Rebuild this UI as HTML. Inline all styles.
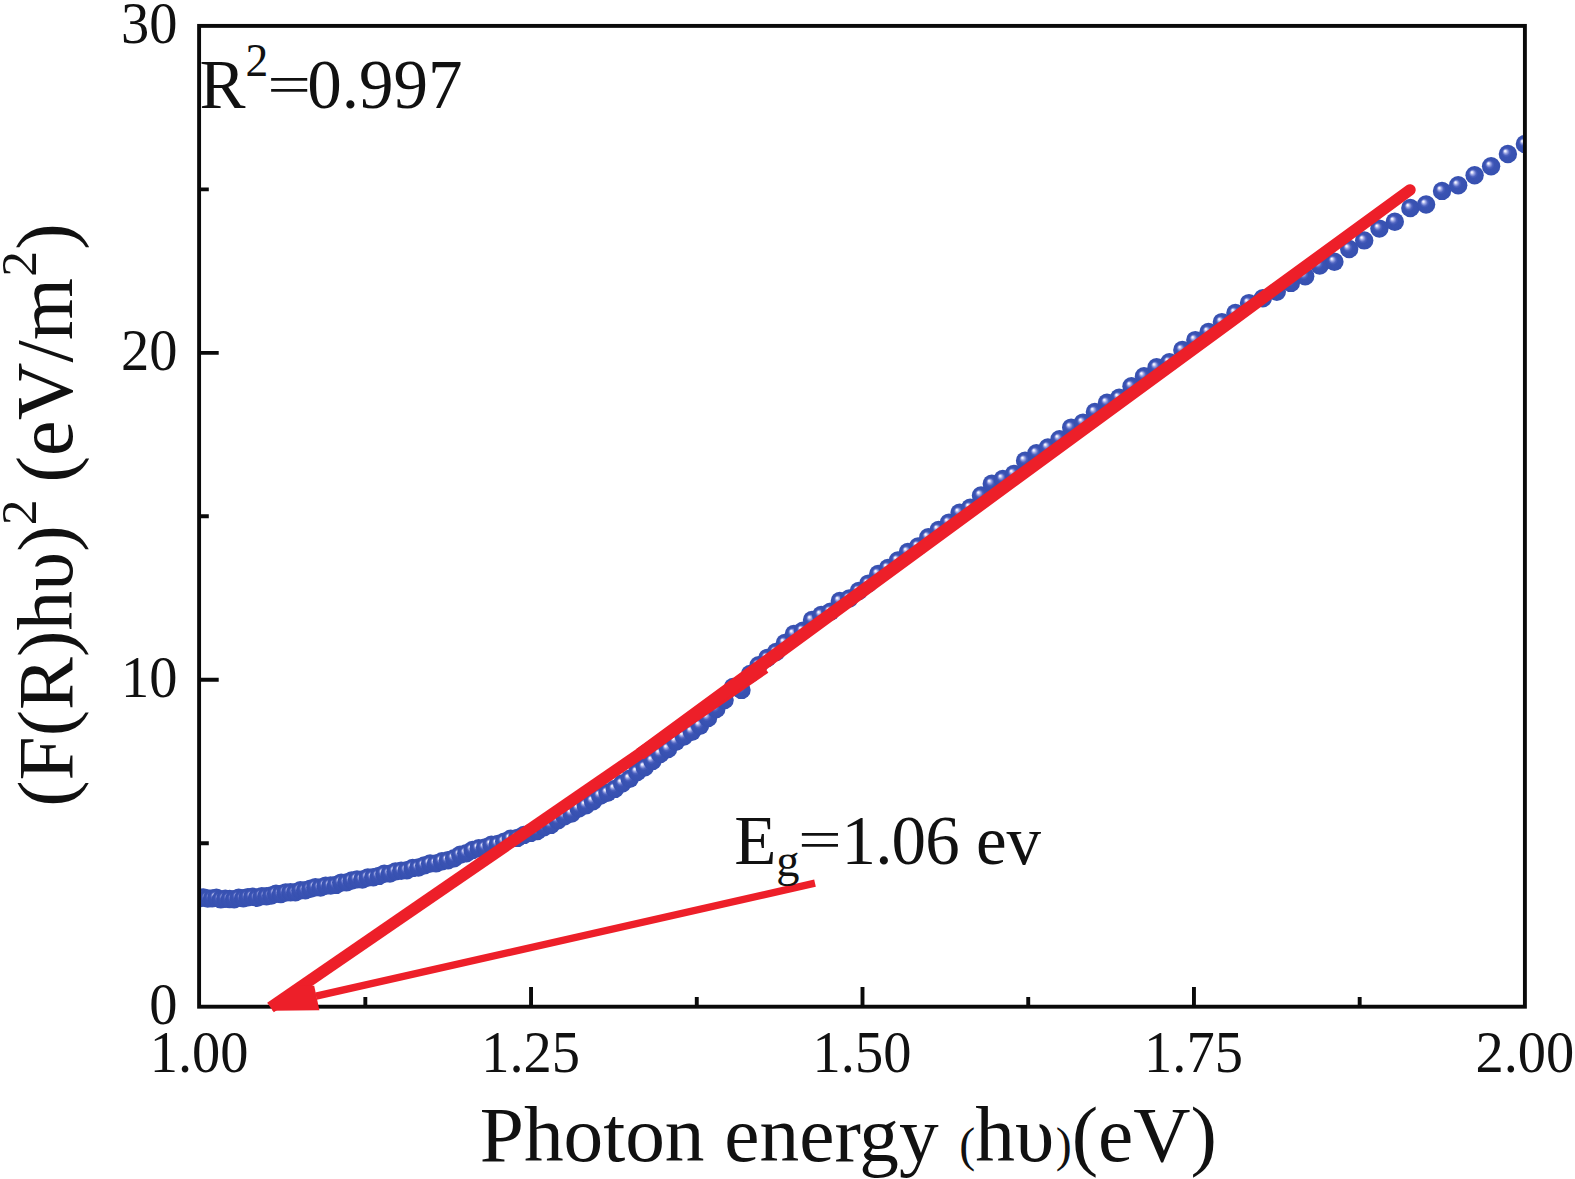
<!DOCTYPE html>
<html lang="en">
<head>
<meta charset="utf-8">
<title>Tauc plot</title>
<style>
html,body{margin:0;padding:0;background:#fff;}
body{width:1575px;height:1179px;overflow:hidden;}
svg{display:block;}
text{font-family:"Liberation Serif",serif;fill:#111;}
.tk{font-size:56.5px;}
.an{font-size:69px;}
</style>
</head>
<body>
<svg width="1575" height="1179" viewBox="0 0 1575 1179">
<defs>
<radialGradient id="ball" cx="0.5" cy="0.5" r="0.5" fx="0.34" fy="0.33">
<stop offset="0" stop-color="#ffffff"/>
<stop offset="0.09" stop-color="#e6e8fb"/>
<stop offset="0.22" stop-color="#97a2e2"/>
<stop offset="0.38" stop-color="#4d62bf"/>
<stop offset="0.52" stop-color="#3a53b3"/>
<stop offset="1" stop-color="#3650b0"/>
</radialGradient>
<clipPath id="plot"><rect x="199.1" y="25.9" width="1325.8" height="980.8"/></clipPath>
</defs>
<rect width="1575" height="1179" fill="#ffffff"/>

<!-- data points -->
<g clip-path="url(#plot)" fill="url(#ball)">
<circle cx="199.1" cy="898.3" r="9.2"/>
<circle cx="203.4" cy="897.5" r="9.2"/>
<circle cx="207.7" cy="898.5" r="9.2"/>
<circle cx="212.1" cy="898.4" r="9.2"/>
<circle cx="216.4" cy="897.8" r="9.2"/>
<circle cx="220.8" cy="899.4" r="9.2"/>
<circle cx="225.3" cy="898.7" r="9.2"/>
<circle cx="229.7" cy="899.0" r="9.2"/>
<circle cx="234.2" cy="899.3" r="9.2"/>
<circle cx="238.7" cy="897.8" r="9.2"/>
<circle cx="243.3" cy="898.3" r="9.2"/>
<circle cx="247.9" cy="897.3" r="9.2"/>
<circle cx="252.5" cy="896.8" r="9.2"/>
<circle cx="257.1" cy="897.7" r="9.2"/>
<circle cx="261.8" cy="896.1" r="9.2"/>
<circle cx="266.5" cy="896.3" r="9.2"/>
<circle cx="271.3" cy="895.5" r="9.2"/>
<circle cx="276.0" cy="893.7" r="9.2"/>
<circle cx="280.8" cy="894.0" r="9.2"/>
<circle cx="285.7" cy="892.5" r="9.2"/>
<circle cx="290.5" cy="892.2" r="9.2"/>
<circle cx="295.4" cy="892.3" r="9.2"/>
<circle cx="300.4" cy="890.3" r="9.2"/>
<circle cx="305.3" cy="890.3" r="9.2"/>
<circle cx="310.4" cy="888.8" r="9.2"/>
<circle cx="315.4" cy="887.2" r="9.2"/>
<circle cx="320.5" cy="887.5" r="9.2"/>
<circle cx="325.6" cy="885.7" r="9.2"/>
<circle cx="330.7" cy="885.5" r="9.2"/>
<circle cx="335.9" cy="884.9" r="9.2"/>
<circle cx="341.2" cy="882.6" r="9.2"/>
<circle cx="346.4" cy="882.4" r="9.2"/>
<circle cx="351.7" cy="880.5" r="9.2"/>
<circle cx="357.0" cy="879.4" r="9.2"/>
<circle cx="362.4" cy="879.5" r="9.2"/>
<circle cx="367.8" cy="877.5" r="9.2"/>
<circle cx="373.3" cy="877.3" r="9.2"/>
<circle cx="378.8" cy="875.9" r="9.2"/>
<circle cx="384.3" cy="873.7" r="9.2"/>
<circle cx="389.9" cy="873.6" r="9.2"/>
<circle cx="395.5" cy="871.4" r="9.2"/>
<circle cx="401.2" cy="870.7" r="9.2"/>
<circle cx="406.9" cy="870.3" r="9.2"/>
<circle cx="412.6" cy="867.9" r="9.2"/>
<circle cx="418.4" cy="867.5" r="9.2"/>
<circle cx="424.2" cy="865.4" r="9.2"/>
<circle cx="430.1" cy="863.5" r="9.2"/>
<circle cx="436.0" cy="863.4" r="9.2"/>
<circle cx="442.0" cy="861.2" r="9.2"/>
<circle cx="448.0" cy="860.3" r="9.2"/>
<circle cx="454.1" cy="858.3" r="9.2"/>
<circle cx="460.2" cy="854.8" r="9.2"/>
<circle cx="466.3" cy="853.3" r="9.2"/>
<circle cx="472.5" cy="850.0" r="9.2"/>
<circle cx="478.8" cy="848.2" r="9.2"/>
<circle cx="485.1" cy="847.5" r="9.2"/>
<circle cx="491.4" cy="844.7" r="9.2"/>
<circle cx="497.8" cy="843.9" r="9.2"/>
<circle cx="504.2" cy="841.6" r="9.2"/>
<circle cx="510.7" cy="838.7" r="9.2"/>
<circle cx="517.3" cy="837.9" r="9.2"/>
<circle cx="523.9" cy="834.9" r="9.2"/>
<circle cx="530.6" cy="832.9" r="9.2"/>
<circle cx="537.3" cy="831.0" r="9.2"/>
<circle cx="544.0" cy="827.2" r="9.2"/>
<circle cx="550.8" cy="824.9" r="9.2"/>
<circle cx="557.7" cy="820.4" r="9.2"/>
<circle cx="564.6" cy="816.2" r="9.2"/>
<circle cx="571.6" cy="813.6" r="9.2"/>
<circle cx="578.7" cy="808.6" r="9.2"/>
<circle cx="585.8" cy="805.4" r="9.2"/>
<circle cx="593.0" cy="801.2" r="9.2"/>
<circle cx="600.2" cy="795.8" r="9.2"/>
<circle cx="607.5" cy="792.8" r="9.2"/>
<circle cx="614.8" cy="788.9" r="9.2"/>
<circle cx="622.2" cy="783.5" r="9.2"/>
<circle cx="629.7" cy="778.8" r="9.2"/>
<circle cx="637.2" cy="772.0" r="9.2"/>
<circle cx="644.8" cy="767.3" r="9.2"/>
<circle cx="652.5" cy="760.9" r="9.2"/>
<circle cx="660.2" cy="754.1" r="9.2"/>
<circle cx="668.1" cy="749.0" r="9.2"/>
<circle cx="675.9" cy="741.8" r="9.2"/>
<circle cx="683.9" cy="736.5" r="9.2"/>
<circle cx="691.9" cy="731.8" r="9.2"/>
<circle cx="700.0" cy="725.8" r="9.2"/>
<circle cx="708.1" cy="718.0" r="9.2"/>
<circle cx="716.3" cy="709.0" r="9.2"/>
<circle cx="724.6" cy="700.0" r="9.2"/>
<circle cx="733.0" cy="687.0" r="9.2"/>
<circle cx="741.5" cy="689.9" r="9.2"/>
<circle cx="750.0" cy="674.0" r="9.2"/>
<circle cx="758.6" cy="665.3" r="9.2"/>
<circle cx="767.3" cy="658.0" r="9.2"/>
<circle cx="776.1" cy="652.0" r="9.2"/>
<circle cx="784.9" cy="643.0" r="9.2"/>
<circle cx="793.9" cy="634.0" r="9.2"/>
<circle cx="802.9" cy="630.8" r="9.2"/>
<circle cx="812.0" cy="620.0" r="9.2"/>
<circle cx="821.2" cy="615.0" r="9.2"/>
<circle cx="830.4" cy="611.7" r="9.2"/>
<circle cx="839.8" cy="601.0" r="9.2"/>
<circle cx="849.3" cy="598.5" r="9.2"/>
<circle cx="858.8" cy="591.0" r="9.2"/>
<circle cx="868.4" cy="583.6" r="9.2"/>
<circle cx="878.2" cy="574.0" r="9.2"/>
<circle cx="888.0" cy="568.0" r="9.2"/>
<circle cx="897.9" cy="560.5" r="9.2"/>
<circle cx="907.9" cy="552.0" r="9.2"/>
<circle cx="918.1" cy="546.4" r="9.2"/>
<circle cx="928.3" cy="537.3" r="9.2"/>
<circle cx="938.6" cy="529.9" r="9.2"/>
<circle cx="949.0" cy="522.6" r="9.2"/>
<circle cx="959.6" cy="512.8" r="9.2"/>
<circle cx="970.2" cy="507.8" r="9.2"/>
<circle cx="981.0" cy="495.4" r="9.2"/>
<circle cx="991.8" cy="483.8" r="9.2"/>
<circle cx="1002.8" cy="478.9" r="9.2"/>
<circle cx="1013.9" cy="473.9" r="9.2"/>
<circle cx="1025.1" cy="460.7" r="9.2"/>
<circle cx="1036.4" cy="453.2" r="9.2"/>
<circle cx="1047.9" cy="447.5" r="9.2"/>
<circle cx="1059.5" cy="439.2" r="9.2"/>
<circle cx="1071.2" cy="427.6" r="9.2"/>
<circle cx="1083.0" cy="422.6" r="9.2"/>
<circle cx="1094.9" cy="411.9" r="9.2"/>
<circle cx="1107.0" cy="402.8" r="9.2"/>
<circle cx="1119.2" cy="397.8" r="9.2"/>
<circle cx="1131.5" cy="386.3" r="9.2"/>
<circle cx="1144.0" cy="376.3" r="9.2"/>
<circle cx="1156.6" cy="367.2" r="9.2"/>
<circle cx="1169.4" cy="362.3" r="9.2"/>
<circle cx="1182.3" cy="349.9" r="9.2"/>
<circle cx="1195.3" cy="340.1" r="9.2"/>
<circle cx="1208.5" cy="332.0" r="9.2"/>
<circle cx="1221.9" cy="322.1" r="9.2"/>
<circle cx="1235.4" cy="313.0" r="9.2"/>
<circle cx="1249.0" cy="303.1" r="9.2"/>
<circle cx="1262.8" cy="298.3" r="9.2"/>
<circle cx="1276.8" cy="291.8" r="9.2"/>
<circle cx="1290.9" cy="282.9" r="9.2"/>
<circle cx="1305.2" cy="276.3" r="9.2"/>
<circle cx="1319.7" cy="265.6" r="9.2"/>
<circle cx="1334.4" cy="261.7" r="9.2"/>
<circle cx="1349.2" cy="249.0" r="9.2"/>
<circle cx="1364.2" cy="240.4" r="9.2"/>
<circle cx="1379.4" cy="228.6" r="9.2"/>
<circle cx="1394.8" cy="221.7" r="9.2"/>
<circle cx="1410.3" cy="208.0" r="9.2"/>
<circle cx="1426.1" cy="204.5" r="9.2"/>
<circle cx="1442.0" cy="190.9" r="9.2"/>
<circle cx="1458.2" cy="185.3" r="9.2"/>
<circle cx="1474.6" cy="175.2" r="9.2"/>
<circle cx="1491.1" cy="166.3" r="9.2"/>
<circle cx="1507.9" cy="154.0" r="9.2"/>
<circle cx="1524.9" cy="144.0" r="9.2"/>
</g>

<!-- axes frame and ticks -->
<rect x="199.1" y="25.9" width="1325.8" height="980.8" fill="none" stroke="#0a0a0a" stroke-width="3.9"/>
<path d="M531.05 1006.70v-19.60 M862.50 1006.70v-19.60 M1193.95 1006.70v-19.60 M365.33 1006.70v-9.70 M696.78 1006.70v-9.70 M1028.23 1006.70v-9.70 M1359.68 1006.70v-9.70 M199.10 679.77h19.60 M199.10 352.83h19.60 M199.10 843.23h9.70 M199.10 516.30h9.70 M199.10 189.37h9.70" fill="none" stroke="#0a0a0a" stroke-width="3.9"/>

<!-- red fit line and arrow -->
<g stroke="#ed1f29" fill="none">
<path d="M815 883.2L316 996.2" stroke-width="7.4"/>
<path d="M270.5 1007.5L765 667.8" stroke-width="11.8"/>
</g>
<path d="M636.19 748.97L1226.25 316.66L1406.63 185.26A5.7 5.7 0 0 1 1413.37 194.46L1233.75 326.90L643.81 759.38Z" fill="#ed1f29"/>
<path d="M272.2 1010.7L298 986L314.2 985.8L319.4 1010.2Z" fill="#ed1f29"/>

<!-- tick labels -->
<g class="tk">
<text transform="translate(199.1 1072.2) scale(1 1.035)" text-anchor="middle">1.00</text>
<text transform="translate(530.6 1072.2) scale(1 1.035)" text-anchor="middle">1.25</text>
<text transform="translate(862.0 1072.2) scale(1 1.035)" text-anchor="middle">1.50</text>
<text transform="translate(1193.5 1072.2) scale(1 1.035)" text-anchor="middle">1.75</text>
<text transform="translate(1524.9 1072.2) scale(1 1.035)" text-anchor="middle">2.00</text>
<text transform="translate(177.6 1023.7) scale(1 1.035)" text-anchor="end">0</text>
<text transform="translate(177.6 696.8) scale(1 1.035)" text-anchor="end">10</text>
<text transform="translate(177.6 369.8) scale(1 1.035)" text-anchor="end">20</text>
<text transform="translate(177.6 42.9) scale(1 1.035)" text-anchor="end">30</text>
</g>

<!-- annotations -->
<g class="an">
<text transform="translate(199.4 108.4) scale(1 1.02)">R<tspan font-size="45.5" dy="-31.8">2</tspan><tspan font-size="54" dy="26.1" dx="-0.85" textLength="43.8" lengthAdjust="spacingAndGlyphs">=</tspan><tspan dy="5.7" dx="-3.9">0.997</tspan></text>
<text transform="translate(734.2 863.8) scale(1 1.02)">E<tspan font-size="46.5" dy="12" dx="-0.2">g</tspan><tspan font-size="54" dy="-17.7" dx="-1.3" textLength="43.8" lengthAdjust="spacingAndGlyphs">=</tspan><tspan dy="5.7" dx="-0.3" letter-spacing="-0.9">1.06</tspan><tspan dx="-0.1"> ev</tspan></text>
</g>

<!-- axis titles -->
<text x="479.8" y="1160.9" font-size="79.3">Photon energy <tspan font-size="48" dx="0.8">(</tspan>hυ<tspan font-size="48" dx="1.5">)</tspan>(eV)</text>
<text transform="translate(71.6 806.8) rotate(-90)" font-size="79.3">(F(R)hυ)<tspan font-size="51.5" dy="-36">2</tspan><tspan dy="36" dx="-3" font-size="80"> (eV/m</tspan><tspan font-size="51.5" dy="-36" dx="1.3">2</tspan><tspan dy="36" dx="1.3" font-size="80">)</tspan></text>
</svg>
</body>
</html>
